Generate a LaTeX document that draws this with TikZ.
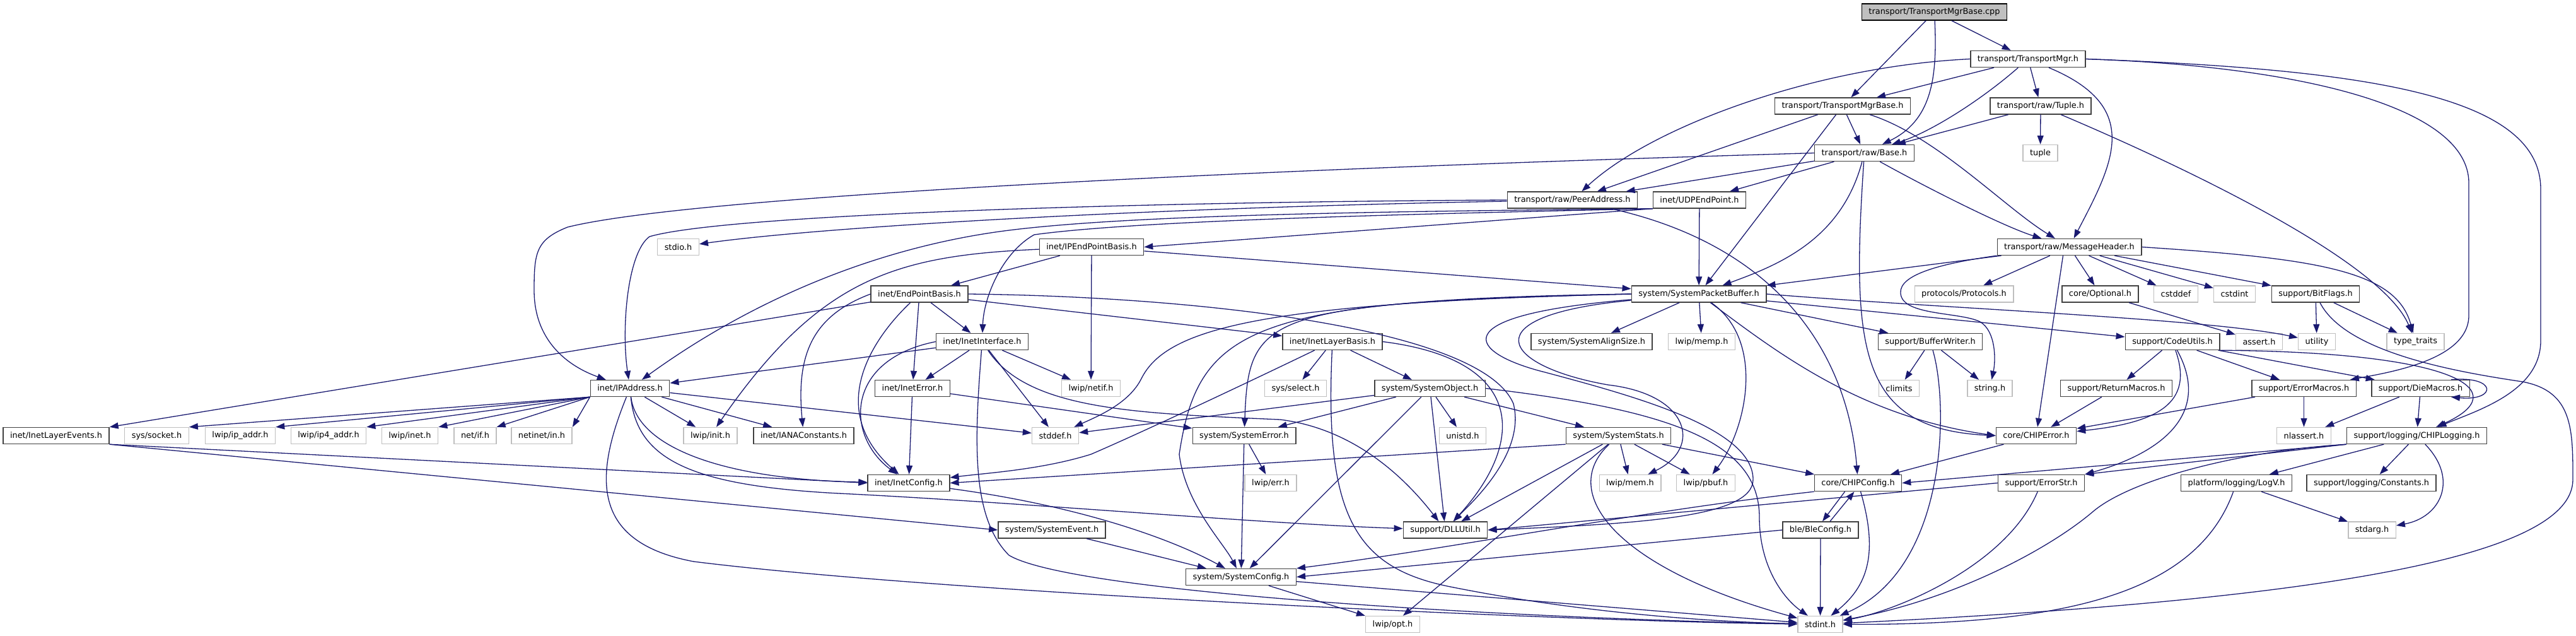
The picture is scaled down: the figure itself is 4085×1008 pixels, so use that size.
\documentclass[tikz,border=0pt]{standalone}
\usepackage{fontspec}
\setmainfont{DejaVu Sans}
\usetikzlibrary{arrows.meta}
\definecolor{linkblue}{HTML}{191970}
\begin{document}
\begin{tikzpicture}[x=1pt,y=-1pt,box/.style={draw=black!75,line width=1.4pt,fill=white,inner xsep=11pt,inner ysep=0pt,minimum height=26pt,font=\fontsize{12.9pt}{15pt}\selectfont},ext/.style={box,draw=black!25},root/.style={box,draw=black,fill=black!25},arr/.style={draw=linkblue,line width=1.3pt,-{Triangle[length=14pt,width=10pt]}}]
\path[use as bounding box,fill=white](0,0) rectangle (4085,1008);
\node[root] (cpp) at (3067.5,19) {transport/TransportMgrBase.cpp};
\node[box] (tmgr) at (3216,93.5) {transport/TransportMgr.h};
\node[box] (tmgrbase) at (2922,168) {transport/TransportMgrBase.h};
\node[box] (tuplehdr) at (3236,168) {transport/raw/Tuple.h};
\node[box] (base) at (2956.5,242.5) {transport/raw/Base.h};
\node[ext] (tuple) at (3235.5,242.5) {tuple};
\node[box] (peer) at (2493.5,317) {transport/raw/PeerAddress.h};
\node[box] (udp) at (2695,317) {inet/UDPEndPoint.h};
\node[ext] (stdio) at (1075.5,391.5) {stdio.h};
\node[box] (ipepb) at (1731,391.5) {inet/IPEndPointBasis.h};
\node[box] (msghdr) at (3281.5,391.5) {transport/raw/MessageHeader.h};
\node[box] (epb) at (1458,466) {inet/EndPointBasis.h};
\node[box] (spb) at (2694,466) {system/SystemPacketBuffer.h};
\node[ext] (protocols) at (3114.5,466) {protocols/Protocols.h};
\node[box] (optional) at (3330.5,466) {core/Optional.h};
\node[ext] (cstddef) at (3450.5,466) {cstddef};
\node[ext] (cstdint) at (3543.5,466) {cstdint};
\node[box] (bitflags) at (3672,466) {support/BitFlags.h};
\node[box] (iface) at (1557.5,541.5) {inet/InetInterface.h};
\node[box] (ilb) at (2113,541.5) {inet/InetLayerBasis.h};
\node[box] (align) at (2524,541.5) {system/SystemAlignSize.h};
\node[ext] (memp) at (2698.5,541.5) {lwip/memp.h};
\node[box] (bufw) at (3061,541.5) {support/BufferWriter.h};
\node[box] (codeutils) at (3445,541.5) {support/CodeUtils.h};
\node[ext] (assert) at (3582.5,541.5) {assert.h};
\node[ext] (utility) at (3674,541.5) {utility};
\node[ext] (typetraits) at (3830.5,541.5) {type\_traits};
\node[box] (ipaddr) at (999,615.5) {inet/IPAddress.h};
\node[box] (ineterr) at (1447,615.5) {inet/InetError.h};
\node[ext] (netif) at (1730,615.5) {lwip/netif.h};
\node[ext] (select) at (2054.5,615.5) {sys/select.h};
\node[box] (sysobj) at (2267.5,615.5) {system/SystemObject.h};
\node[ext] (climits) at (3011.5,615.5) {climits};
\node[ext] (string) at (3155.5,615.5) {string.h};
\node[box] (retmac) at (3356,615.5) {support/ReturnMacros.h};
\node[box] (errmac) at (3653.5,615.5) {support/ErrorMacros.h};
\node[box] (diemac) at (3838.5,615.5) {support/DieMacros.h};
\node[box] (events) at (89,690.5) {inet/InetLayerEvents.h};
\node[ext] (socket) at (248.5,690.5) {sys/socket.h};
\node[ext] (ipaddrh) at (381,690.5) {lwip/ip\_addr.h};
\node[ext] (ip4addr) at (521,690.5) {lwip/ip4\_addr.h};
\node[ext] (inet) at (650,690.5) {lwip/inet.h};
\node[ext] (netifh) at (753.5,690.5) {net/if.h};
\node[ext] (netinetin) at (859,690.5) {netinet/in.h};
\node[ext] (init) at (1126.5,690.5) {lwip/init.h};
\node[box] (iana) at (1274.5,690.5) {inet/IANAConstants.h};
\node[ext] (stddef) at (1673.5,690.5) {stddef.h};
\node[box] (syserr) at (1973,690.5) {system/SystemError.h};
\node[ext] (unistd) at (2319.5,690.5) {unistd.h};
\node[box] (stats) at (2566.5,690.5) {system/SystemStats.h};
\node[box] (chiperr) at (3229,690.5) {core/CHIPError.h};
\node[ext] (nlassert) at (3653.5,690.5) {nlassert.h};
\node[box] (logging) at (3832.5,690.5) {support/logging/CHIPLogging.h};
\node[box] (inetcfg) at (1441,765.5) {inet/InetConfig.h};
\node[ext] (err) at (2015,765.5) {lwip/err.h};
\node[ext] (mem) at (2585,765.5) {lwip/mem.h};
\node[ext] (pbuf) at (2705,765.5) {lwip/pbuf.h};
\node[box] (chipcfg) at (2946.5,765.5) {core/CHIPConfig.h};
\node[box] (errstr) at (3237,765.5) {support/ErrorStr.h};
\node[box] (logv) at (3546.5,765.5) {platform/logging/LogV.h};
\node[box] (consts) at (3760.5,765.5) {support/logging/Constants.h};
\node[box] (sysevent) at (1668,840) {system/SystemEvent.h};
\node[box] (dll) at (2292,840) {support/DLLUtil.h};
\node[box] (ble) at (2887,840) {ble/BleConfig.h};
\node[ext] (stdarg) at (3761.5,840) {stdarg.h};
\node[box] (syscfg) at (1968,914.5) {system/SystemConfig.h};
\node[ext] (opt) at (2208.5,989.5) {lwip/opt.h};
\node[ext] (stdint) at (2886.5,989.5) {stdint.h};
\draw[arr](cpp)--(tmgrbase);\draw[arr](cpp)--(tmgr);\draw[arr](cpp) .. controls (3072,120) and (3065,190) .. (base);
\draw[arr](tmgr)--(tmgrbase);\draw[arr](tmgr)--(tuplehdr);\draw[arr](tmgr.west) .. controls (2880,105) and (2620,200) .. (peer);\draw[arr](tmgr) .. controls (3140,160) and (3060,210) .. (base);\draw[arr](tmgr) .. controls (3400,170) and (3350,260) .. (msghdr);
\draw[arr](tmgr.east) .. controls (3650,105) and (3915,170) .. (3915,290) -- (3915,500) .. controls (3915,570) and (3790,590) .. (errmac);
\draw[arr](tmgr.east) .. controls (3750,110) and (4029,150) .. (4029,300) -- (4029,540) .. controls (4029,620) and (3930,650) .. (logging);
\draw[arr](tmgrbase)--(peer);\draw[arr](tmgrbase)--(base);\draw[arr](tmgrbase)--(spb);\draw[arr](tmgrbase) .. controls (3070,215) and (3180,330) .. (msghdr);
\draw[arr](tuplehdr)--(base);\draw[arr](tuplehdr)--(tuple);\draw[arr](tuplehdr) .. controls (3500,280) and (3780,420) .. (typetraits);
\draw[arr](base.west) .. controls (2000,268) and (1100,310) .. (900,360) .. controls (850,380) and (847,400) .. (847,460) .. controls (847,540) and (900,580) .. (ipaddr);
\draw[arr](base)--(peer);\draw[arr](base)--(udp);\draw[arr](base) .. controls (2920,380) and (2820,420) .. (spb);\draw[arr](base) .. controls (3060,300) and (3180,360) .. (msghdr);\draw[arr](base) .. controls (2935,560) and (2950,680) .. (chiperr.west);
\draw[arr](peer.west) .. controls (1800,320) and (1150,340) .. (1030,375) .. controls (995,400) and (985,520) .. (ipaddr);\draw[arr](peer) .. controls (1800,330) and (1300,360) .. (stdio);\draw[arr](peer) .. controls (2820,390) and (2930,560) .. (chipcfg);
\draw[arr](udp)--(spb);\draw[arr](udp.south west)--(ipepb.east);
\draw[arr](udp.south west) .. controls (2200,340) and (1800,350) .. (1640,372) .. controls (1590,400) and (1560,470) .. (iface);
\draw[arr](udp.south west) .. controls (2200,335) and (1800,340) .. (1600,365) .. controls (1400,390) and (1200,470) .. (ipaddr);
\draw[arr](ipepb)--(epb);\draw[arr](ipepb)--(spb);\draw[arr](ipepb)--(netif);\draw[arr](ipepb) .. controls (1420,405) and (1300,440) .. (init);
\draw[arr](msghdr)--(spb);\draw[arr](msghdr)--(protocols);\draw[arr]([xshift=-10pt]msghdr.south)--(chiperr);\draw[arr](msghdr)--(optional);\draw[arr](msghdr)--(cstddef);\draw[arr](msghdr)--(cstdint);\draw[arr](msghdr)--(bitflags);
\draw[arr](msghdr.east) .. controls (3680,410) and (3800,430) .. (typetraits);
\draw[arr](msghdr.south west) .. controls (3060,420) and (3005,440) .. (3015,470) .. controls (3025,500) and (3110,495) .. (3140,510) .. controls (3165,525) and (3165,570) .. (string);
\draw[arr](epb)--(ilb);\draw[arr](epb)--(iface);\draw[arr](epb)--(ineterr);\draw[arr](epb)--(events);\draw[arr](epb) .. controls (1380,540) and (1310,650) .. (inetcfg);\draw[arr](epb.west) .. controls (1290,500) and (1262,560) .. (iana);
\draw[arr](epb.east) .. controls (1900,470) and (2350,520) .. (2400,640) .. controls (2420,720) and (2330,800) .. (dll);
\draw[arr](spb)--(align);\draw[arr](spb)--(memp);\draw[arr](spb)--(bufw);\draw[arr](spb)--(codeutils);\draw[arr](spb) .. controls (2800,540) and (2770,680) .. (pbuf);
\draw[arr](spb) .. controls (2330,500) and (2380,580) .. (2550,610) .. controls (2680,625) and (2700,710) .. (mem);
\draw[arr](spb) .. controls (2280,500) and (2330,560) .. (2450,590) .. controls (2600,630) and (2780,680) .. (2780,760) .. controls (2780,820) and (2600,830) .. (dll.east);
\draw[arr](spb.east) .. controls (3100,490) and (3500,505) .. (utility);\draw[arr](spb) .. controls (2820,560) and (2950,660) .. (chiperr.west);
\draw[arr](spb.west) .. controls (2000,480) and (1850,520) .. (1810,600) .. controls (1790,640) and (1740,660) .. (stddef);
\draw[arr](spb.west) .. controls (2000,480) and (1980,500) .. (syserr);
\draw[arr](spb.west) .. controls (1980,475) and (1900,520) .. (1870,720) .. controls (1880,800) and (1940,860) .. (syscfg);
\draw[arr](iface)--(ipaddr);\draw[arr](iface)--(ineterr);\draw[arr](iface)--(stddef);\draw[arr](iface)--(netif);\draw[arr](iface.west) .. controls (1340,570) and (1340,690) .. (inetcfg);
\draw[arr](iface) .. controls (1630,650) and (1800,655) .. (2030,665) .. controls (2150,680) and (2230,760) .. (dll);
\draw[arr](iface) .. controls (1545,700) and (1540,820) .. (1600,880) .. controls (1700,940) and (2400,980) .. (stdint);
\draw[arr](ineterr)--(inetcfg);\draw[arr](ineterr)--(syserr);
\draw[arr](ipaddr.south west)--(socket.north east);\draw[arr](ipaddr.south west)--(ipaddrh.north east);\draw[arr](ipaddr.south west)--(ip4addr.north east);\draw[arr](ipaddr.south west)--(inet.north east);\draw[arr](ipaddr.south west)--(netifh.north east);\draw[arr](ipaddr.south west)--(netinetin.north east);
\draw[arr](ipaddr)--(init);\draw[arr](ipaddr)--(iana);\draw[arr](ipaddr)--(stddef);\draw[arr](ipaddr) .. controls (1010,710) and (1150,760) .. (inetcfg);
\draw[arr](ipaddr) .. controls (1010,730) and (1100,770) .. (1330,782) .. controls (1600,795) and (2000,830) .. (dll);
\draw[arr](ipaddr) .. controls (940,760) and (940,860) .. (1100,890) .. controls (1500,940) and (2500,985) .. (stdint);
\draw[arr](events.south east)--(inetcfg.west);\draw[arr](events.south east)--(sysevent.west);
\draw[arr](ilb)--(select);\draw[arr](ilb)--(sysobj);\draw[arr](ilb) .. controls (1950,620) and (1800,690) .. (1730,720) .. controls (1650,745) and (1560,750) .. (inetcfg);
\draw[arr](ilb.east) .. controls (2420,570) and (2420,700) .. (dll);\draw[arr](ilb) .. controls (2100,820) and (2150,900) .. (2300,930) .. controls (2500,970) and (2700,985) .. (stdint);
\draw[arr](sysobj)--(stddef);\draw[arr](sysobj)--(syserr);\draw[arr](sysobj)--(syscfg);\draw[arr](sysobj)--(dll);\draw[arr](sysobj)--(unistd);\draw[arr](sysobj)--(stats);
\draw[arr](sysobj.east) .. controls (2650,650) and (2790,700) .. (2790,820) .. controls (2790,900) and (2830,950) .. (stdint);
\draw[arr](stats.south west)--(inetcfg.east);\draw[arr](stats)--(dll);\draw[arr](stats)--(opt);\draw[arr](stats)--(mem);\draw[arr](stats)--(pbuf);\draw[arr](stats)--(chipcfg);\draw[arr](stats) .. controls (2470,780) and (2560,900) .. (stdint);
\draw[arr](syserr)--(err);\draw[arr](syserr)--(syscfg);\draw[arr](inetcfg) .. controls (1700,800) and (1850,850) .. (syscfg);\draw[arr](sysevent)--(syscfg);
\draw[arr](syscfg)--(opt);\draw[arr](syscfg)--(stdint);
\draw[arr]([xshift=-21pt]chipcfg.south)--([xshift=3pt]ble.north);\draw[arr]([xshift=15pt]ble.north)--([xshift=-6pt]chipcfg.south);
\draw[arr](chipcfg.south west) .. controls (2600,810) and (2300,870) .. (syscfg.north east);\draw[arr](chipcfg) .. controls (2980,880) and (2960,930) .. (stdint);
\draw[arr](ble.west)--(syscfg.east);\draw[arr](ble)--(stdint);\draw[arr](chiperr)--(chipcfg);
\draw[arr](errstr.west)--(dll.east);\draw[arr](errstr) .. controls (3180,900) and (3000,970) .. (stdint);
\draw[arr](logging.south west)--(chipcfg.east);\draw[arr](logging.south west)--(errstr.north east);\draw[arr](logging)--(logv);\draw[arr](logging)--(consts);\draw[arr](logging) .. controls (3900,760) and (3870,820) .. (stdarg);
\draw[arr](logging.south west) .. controls (3550,715) and (3380,760) .. (3320,810) .. controls (3250,870) and (3100,950) .. (stdint);
\draw[arr](logv)--(stdarg);\draw[arr](logv) .. controls (3480,950) and (3250,990) .. (stdint);
\draw[arr](codeutils)--(retmac);\draw[arr](codeutils)--(errmac);\draw[arr](codeutils)--(diemac);\draw[arr](codeutils) .. controls (3480,640) and (3420,670) .. (chiperr);\draw[arr](codeutils) .. controls (3510,660) and (3420,720) .. (errstr.north east);
\draw[arr](codeutils.south east) .. controls (3900,558) and (3990,620) .. (logging);
\draw[arr](retmac)--(chiperr);\draw[arr](errmac)--(chiperr);\draw[arr](errmac)--(nlassert);\draw[arr](diemac)--(nlassert);\draw[arr](diemac)--(logging);
\draw[arr]([xshift=-30pt]diemac.north east) .. controls (3960,595) and (3960,636) .. ([xshift=-30pt]diemac.south east);
\draw[arr](bitflags)--(utility);\draw[arr](bitflags)--(typetraits);
\draw[arr](bitflags) .. controls (3720,560) and (3900,590) .. (4000,605) .. controls (4080,620) and (4080,680) .. (4080,760) .. controls (4080,880) and (3700,950) .. (stdint);
\draw[arr](optional)--(assert);
\draw[arr](bufw)--(climits);\draw[arr](bufw)--(string);\draw[arr](bufw) .. controls (3090,640) and (3090,900) .. (stdint);
\end{tikzpicture}
\end{document}
